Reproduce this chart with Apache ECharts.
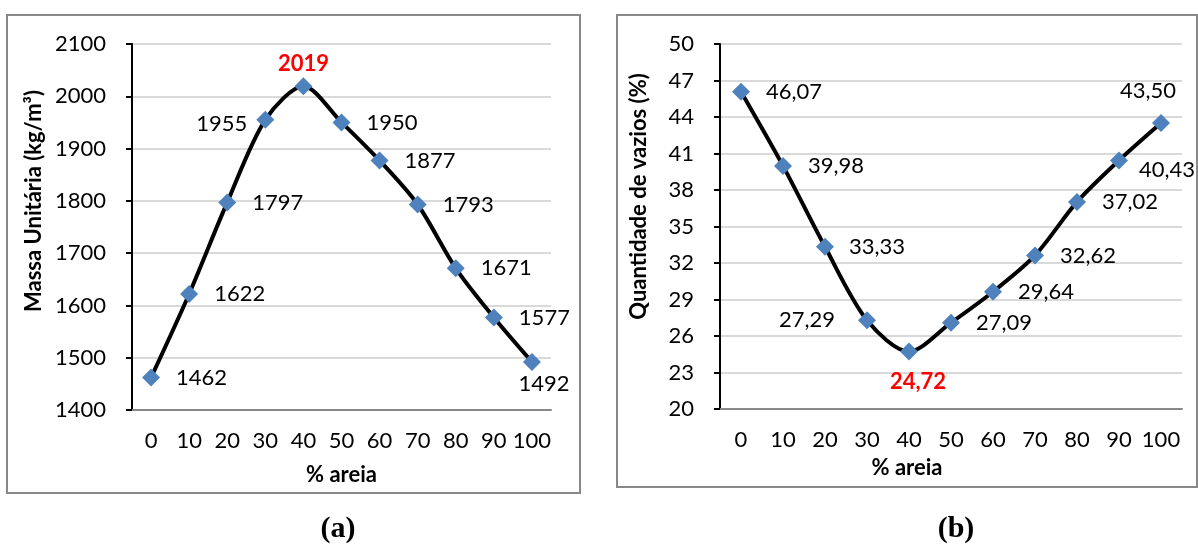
<!DOCTYPE html>
<html>
<head>
    <meta charset="utf-8" />
    <title>Massa unitária e vazios</title>
    <script src="https://cdn.jsdelivr.net/npm/echarts@6/dist/echarts.min.js"></script>
    <style type="text/css">
        * { margin: 0; padding: 0 }
        html, body { background: #fff; }
        #chart { width: 1198px; height: 545px; }
    </style>
</head>
<body>
<div id="chart"></div>
<script>
    // dados
    var areia = ['0', '10', '20', '30', '40', '50', '60', '70', '80', '90', '100'];
    var massaUnitaria = [1462, 1622, 1797, 1955, 2019, 1950, 1877, 1793, 1671, 1577, 1492];
    var vazios = [46.07, 39.98, 33.33, 27.29, 24.72, 27.09, 29.64, 32.62, 37.02, 40.43, 43.50];
    var ticksMassa = { min: 1400, max: 2100, interval: 100 };
    var ticksVazios = { min: 20, max: 50, interval: 3 };

    var fonte = 'Lato, "Open Sans", sans-serif';
    var azul = '#4f81bd';

    // posição de cada rótulo (a)
    var posMassa = [
        { position: 'right', distance: 16 },
        { position: 'right', distance: 16 },
        { position: 'right', distance: 16 },
        { position: 'left', distance: 9, offset: [0, 4] },
        { position: 'top', distance: 2, color: '#ff0000', fontWeight: 'bold' },
        { position: 'right', distance: 16 },
        { position: 'right', distance: 16 },
        { position: 'right', distance: 16 },
        { position: 'right', distance: 16 },
        { position: 'right', distance: 16 },
        { position: 'bottom', distance: 2, offset: [12, 0] }
    ];
    // posição de cada rótulo (b)
    var posVazios = [
        { position: 'right', distance: 16 },
        { position: 'right', distance: 16 },
        { position: 'right', distance: 15 },
        { position: 'left', distance: 23 },
        { position: 'bottom', distance: 10, offset: [9, 0], color: '#ff0000', fontWeight: 'bold' },
        { position: 'right', distance: 16 },
        { position: 'right', distance: 16 },
        { position: 'right', distance: 16 },
        { position: 'right', distance: 16 },
        { position: 'right', distance: 11, offset: [0, 9] },
        { position: 'top', distance: 12, offset: [-13, 0] }
    ];

    function montaDados(valores, pos) {
        var out = [];
        for (var i = 0; i < valores.length; i++) {
            out.push({ value: valores[i], label: pos[i] });
        }
        return out;
    }

    function eixoY(idx, t, nome, gap, pad) {
        return {
            type: 'value', gridIndex: idx,
            min: t.min, max: t.max, interval: t.interval,
            name: nome, nameLocation: 'middle', nameGap: gap, nameRotate: 90,
            nameMoveOverlap: false,
            nameTextStyle: { fontFamily: fonte, fontSize: 22, fontWeight: 'bold', color: '#000', padding: pad },
            axisLine: { show: true, lineStyle: { color: '#000', width: 2 } },
            axisTick: { show: true, length: 6, lineStyle: { color: '#000', width: 2 } },
            axisLabel: {
                fontFamily: fonte, fontSize: 22, color: '#000', margin: 26,
                formatter: function (v) { return String(v); }
            },
            splitLine: { lineStyle: { color: '#d9d9d9', width: 2 } }
        };
    }

    function eixoX(idx, gap, pad) {
        return {
            type: 'category', gridIndex: idx, data: areia, boundaryGap: true,
            name: '% areia', nameLocation: 'middle', nameGap: gap,
            nameMoveOverlap: false,
            nameTextStyle: { fontFamily: fonte, fontSize: 22, fontWeight: 'bold', color: '#000', padding: pad },
            axisLine: { lineStyle: { color: '#888', width: 2 } },
            axisTick: { show: false },
            axisLabel: { fontFamily: fonte, fontSize: 22, color: '#000', margin: 20, interval: 0 }
        };
    }

    function serie(idx, dados, fmt) {
        return {
            type: 'line', xAxisIndex: idx, yAxisIndex: idx,
            data: dados, smooth: 0.3,
            lineStyle: { color: '#000', width: 4 },
            symbol: 'diamond', symbolSize: 18,
            itemStyle: { color: azul },
            label: { show: true, fontFamily: fonte, fontSize: 22, color: '#000', formatter: fmt },
            z: 3
        };
    }

    var chart = echarts.init(document.getElementById('chart'));
    chart.setOption({
        animation: false,
        grid: [
            { left: 132, top: 44, width: 419, height: 366, outerBoundsMode: 'none', containLabel: false },
            { left: 720, top: 44, width: 462, height: 365, outerBoundsMode: 'none', containLabel: false }
        ],
        xAxis: [eixoX(0, 54, [0, 0, 0, 0]), eixoX(1, 48, [0, 88, 0, 0])],
        yAxis: [
            eixoY(0, ticksMassa, 'Massa Unitária (kg/m³)', 87, [0, 0, 0, 52]),
            eixoY(1, ticksVazios, 'Quantidade de vazios (%)', 70, [0, 0, 0, 60])
        ],
        series: [
            serie(0, montaDados(massaUnitaria, posMassa), function (p) { return String(p.value); }),
            serie(1, montaDados(vazios, posVazios), function (p) { return p.value.toFixed(2).replace('.', ','); })
        ],
        graphic: [
            { type: 'rect', shape: { x: 7, y: 15, width: 573, height: 478 }, style: { fill: 'none', stroke: '#888', lineWidth: 2 }, silent: true },
            { type: 'rect', shape: { x: 617, y: 15, width: 580, height: 472 }, style: { fill: 'none', stroke: '#888', lineWidth: 2 }, silent: true },
            { type: 'text', x: 338, y: 514, style: { text: '(a)', font: 'bold 30px "Liberation Serif", serif', fill: '#000', textAlign: 'center' } },
            { type: 'text', x: 956, y: 514, style: { text: '(b)', font: 'bold 30px "Liberation Serif", serif', fill: '#000', textAlign: 'center' } }
        ]
    });
</script>
</body>
</html>
